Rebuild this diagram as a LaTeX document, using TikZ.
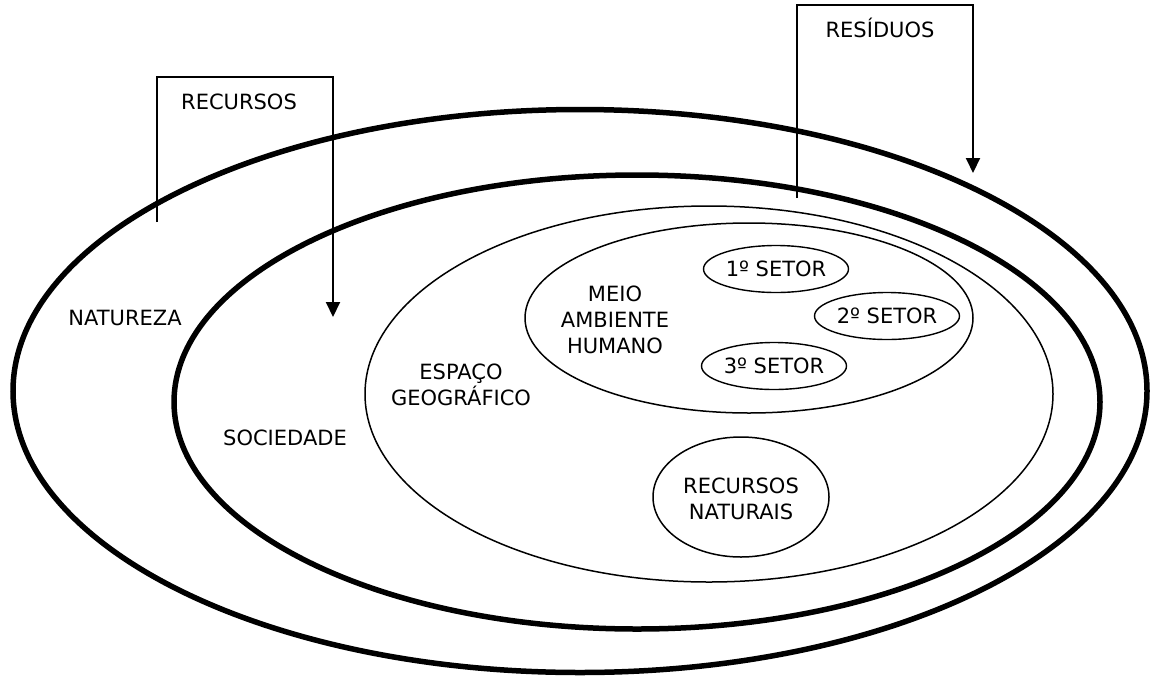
\documentclass[tikz,border=0pt]{standalone}
\usepackage{fontspec}
\setmainfont{DejaVu Sans}
\usepackage{tikz}
\usetikzlibrary{positioning}
\usetikzlibrary{shapes.geometric}
\usetikzlibrary{arrows.meta}

\begin{document}
\begin{tikzpicture}[x=1pt, y=-1pt,
							bigring/.style={ellipse, draw=black, line width=5.5pt, inner sep=0pt},
							ring/.style={ellipse, draw=black, line width=1.5pt, inner sep=0pt},
							sector/.style={ellipse, draw=black, line width=1.4pt, inner sep=0pt, minimum width=145pt, minimum height=47pt, font=\fontsize{21}{26}\selectfont},
							txt/.style={align=center, font=\fontsize{21}{26}\selectfont},
							flow/.style={line width=2pt, -{Triangle[length=15pt, width=14pt]}},
							]
							\useasboundingbox (0,0) rectangle (1151,678);
							%Nodes
							\node[bigring, minimum width=1134pt, minimum height=563pt]	(natureza)	at	(580,391)	{};
							\node[bigring, minimum width=926pt, minimum height=454pt]	(sociedade)	at	(637,402)	{};
							\node[ring, minimum width=688pt, minimum height=376pt]		(espaco)	at	(709,394)	{};
							\node[ring, minimum width=448pt, minimum height=190pt]		(meio)		at	(749,318)	{};
							\node[ring, minimum width=176pt, minimum height=120pt]		(naturais)	at	(741,497)	{};
							\node[sector]	(s1)	at	(776,269)	{1º SETOR};
							\node[sector]	(s2)	at	(887,316)	{2º SETOR};
							\node[sector]	(s3)	at	(774,366)	{3º SETOR};
							\node[txt, anchor=base]	(lnat)	at	(125,325)	{NATUREZA};
							\node[txt, anchor=base]	(lsoc)	at	(285,445)	{SOCIEDADE};
							\node[txt]		(lesp)	at	(461,385)	{ESPAÇO\\GEOGRÁFICO};
							\node[txt]		(lmeio)	at	(615,320)	{MEIO\\AMBIENTE\\HUMANO};
							\node[txt]		(lrn)	at	(741,499)	{RECURSOS\\NATURAIS};
							\node[txt, anchor=base]	(lrec)	at	(239,109)	{RECURSOS};
							\node[txt, anchor=base]	(lres)	at	(880,37)	{RESÍDUOS};
							
							%Lines
							\coordinate (rec0) at (157,222);
							\coordinate (rec1) at (157,77);
							\coordinate (rec2) at (333,77);
							\coordinate (rec3) at (333,317);
							\coordinate (res0) at (797,198);
							\coordinate (res1) at (797,5);
							\coordinate (res2) at (973,5);
							\coordinate (res3) at (973,173);
							\draw[flow] (rec0) -- (rec1) -- (rec2) -- (rec3);
							\draw[flow] (res0) -- (res1) -- (res2) -- (res3);
						\end{tikzpicture}
\end{document}
